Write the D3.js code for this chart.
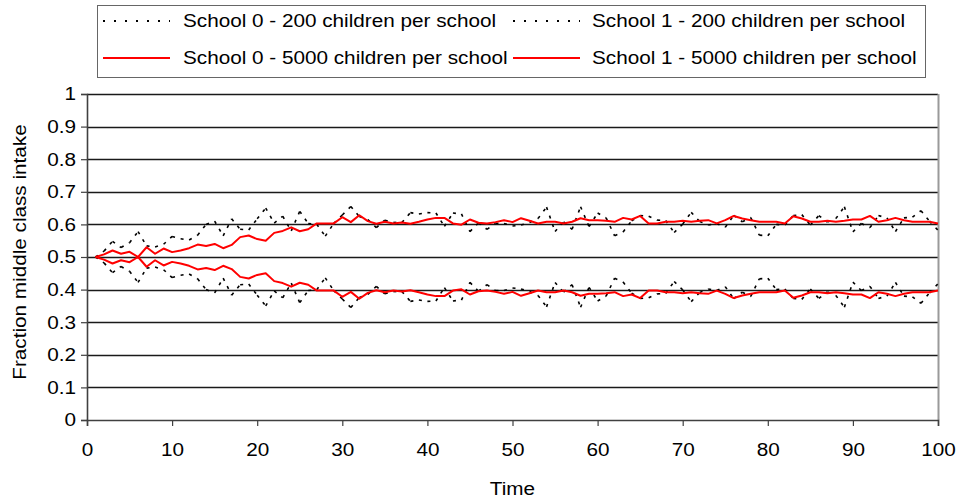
<!DOCTYPE html>
<html>
<head>
<meta charset="utf-8">
<script src="https://cdn.jsdelivr.net/npm/d3@7"></script>
<style>
  html, body { margin: 0; padding: 0; background: #fff; }
  svg { display: block; font-family: "Liberation Sans", Arial, sans-serif; }
</style>
</head>
<body>
<svg id="chart" width="956" height="499"></svg>
<script>
// Time steps 1..100
const time = d3.range(1, 101);

// Fraction of middle-class intake, 200 children per school
const school0Small = [
  0.500, 0.518, 0.548, 0.529, 0.544, 0.578, 0.534, 0.531, 0.539, 0.563,
  0.556, 0.552, 0.567, 0.600, 0.610, 0.565, 0.617, 0.585, 0.583, 0.617,
  0.650, 0.604, 0.625, 0.580, 0.640, 0.603, 0.600, 0.564, 0.603, 0.629,
  0.655, 0.624, 0.615, 0.590, 0.613, 0.606, 0.606, 0.636, 0.632, 0.636,
  0.635, 0.594, 0.635, 0.632, 0.578, 0.605, 0.585, 0.603, 0.603, 0.595,
  0.598, 0.606, 0.618, 0.653, 0.578, 0.608, 0.585, 0.654, 0.593, 0.635,
  0.620, 0.565, 0.577, 0.611, 0.627, 0.625, 0.613, 0.612, 0.575, 0.601,
  0.637, 0.609, 0.598, 0.603, 0.591, 0.628, 0.608, 0.621, 0.567, 0.565,
  0.600, 0.598, 0.627, 0.630, 0.598, 0.627, 0.607, 0.618, 0.654, 0.577,
  0.603, 0.590, 0.627, 0.620, 0.578, 0.620, 0.622, 0.642, 0.610, 0.582
];
const school1Small = [
  0.500, 0.482, 0.452, 0.471, 0.456, 0.422, 0.466, 0.469, 0.461, 0.437,
  0.444, 0.448, 0.433, 0.400, 0.390, 0.435, 0.383, 0.415, 0.417, 0.383,
  0.350, 0.396, 0.375, 0.420, 0.360, 0.397, 0.400, 0.436, 0.397, 0.371,
  0.345, 0.376, 0.385, 0.410, 0.387, 0.394, 0.394, 0.364, 0.368, 0.364,
  0.365, 0.406, 0.365, 0.368, 0.422, 0.395, 0.415, 0.397, 0.397, 0.405,
  0.402, 0.394, 0.382, 0.347, 0.422, 0.392, 0.415, 0.346, 0.407, 0.365,
  0.380, 0.435, 0.423, 0.389, 0.373, 0.375, 0.387, 0.388, 0.425, 0.399,
  0.363, 0.391, 0.402, 0.397, 0.409, 0.372, 0.392, 0.379, 0.433, 0.435,
  0.400, 0.402, 0.373, 0.370, 0.402, 0.373, 0.393, 0.382, 0.346, 0.423,
  0.397, 0.410, 0.373, 0.380, 0.422, 0.380, 0.378, 0.358, 0.390, 0.418
];

// Fraction of middle-class intake, 5000 children per school
const school0Large = [
  0.500, 0.508, 0.520, 0.510, 0.516, 0.500, 0.530, 0.510, 0.526, 0.515,
  0.520, 0.527, 0.538, 0.534, 0.540, 0.527, 0.537, 0.561, 0.566, 0.555,
  0.550, 0.574, 0.580, 0.591, 0.579, 0.585, 0.603, 0.603, 0.603, 0.622,
  0.607, 0.628, 0.610, 0.602, 0.608, 0.603, 0.606, 0.602, 0.608, 0.615,
  0.620, 0.620, 0.603, 0.599, 0.615, 0.605, 0.603, 0.607, 0.613, 0.607,
  0.619, 0.611, 0.603, 0.608, 0.608, 0.603, 0.608, 0.619, 0.613, 0.613,
  0.611, 0.608, 0.620, 0.615, 0.626, 0.603, 0.603, 0.608, 0.608, 0.611,
  0.608, 0.611, 0.613, 0.603, 0.613, 0.626, 0.618, 0.613, 0.608, 0.608,
  0.608, 0.603, 0.625, 0.618, 0.608, 0.608, 0.611, 0.608, 0.611, 0.615,
  0.615, 0.626, 0.608, 0.613, 0.620, 0.613, 0.608, 0.608, 0.608, 0.603
];
const school1Large = [
  0.500, 0.492, 0.480, 0.490, 0.484, 0.500, 0.470, 0.490, 0.474, 0.485,
  0.480, 0.473, 0.462, 0.466, 0.460, 0.473, 0.463, 0.439, 0.434, 0.445,
  0.450, 0.426, 0.420, 0.409, 0.421, 0.415, 0.397, 0.397, 0.397, 0.378,
  0.393, 0.372, 0.390, 0.398, 0.392, 0.397, 0.394, 0.398, 0.392, 0.385,
  0.380, 0.380, 0.397, 0.401, 0.385, 0.395, 0.397, 0.393, 0.387, 0.393,
  0.381, 0.389, 0.397, 0.392, 0.392, 0.397, 0.392, 0.381, 0.387, 0.387,
  0.389, 0.392, 0.380, 0.385, 0.374, 0.397, 0.397, 0.392, 0.392, 0.389,
  0.392, 0.389, 0.387, 0.397, 0.387, 0.374, 0.382, 0.387, 0.392, 0.392,
  0.392, 0.397, 0.375, 0.382, 0.392, 0.392, 0.389, 0.392, 0.389, 0.385,
  0.385, 0.374, 0.392, 0.387, 0.380, 0.387, 0.392, 0.392, 0.392, 0.397
];

const xTicks = [0, 10, 20, 30, 40, 50, 60, 70, 80, 90, 100];
const yTicks = [0, 0.1, 0.2, 0.3, 0.4, 0.5, 0.6, 0.7, 0.8, 0.9, 1];

const seriesNames = [
  "School 0 - 200 children per school",
  "School 1 - 200 children per school",
  "School 0 - 5000 children per school",
  "School 1 - 5000 children per school"
];

const series = [
  { name: seriesNames[0], values: school0Small, kind: "dot" },
  { name: seriesNames[1], values: school1Small, kind: "dot" },
  { name: seriesNames[2], values: school0Large, kind: "solid" },
  { name: seriesNames[3], values: school1Large, kind: "solid" }
];

const svg = d3.select("#chart");
const plot = { left: 87, right: 938, top: 94, bottom: 420 };
const FONT = 18.5;
const STRETCH = 1.12; // glyphs are drawn slightly wide

// widen a text element horizontally about its own anchor point
function widen(sel) {
  sel.each(function () {
    const x0 = +(this.getAttribute("x") || 0);
    const prev = this.getAttribute("transform") || "";
    this.setAttribute("transform",
      `${prev} translate(${x0 * (1 - STRETCH)},0) scale(${STRETCH},1)`);
  });
}

const x = d3.scaleLinear().domain([0, 100]).range([plot.left, plot.right]);
const y = d3.scaleLinear().domain([0, 1]).range([plot.bottom, plot.top]);

// Horizontal gridlines
svg.append("g")
  .selectAll("line")
  .data(yTicks.filter(v => v > 0))
  .join("line")
  .attr("x1", plot.left).attr("x2", plot.right)
  .attr("y1", d => Math.round(y(d)) + 0.5).attr("y2", d => Math.round(y(d)) + 0.5)
  .attr("stroke", "#1a1a1a").attr("stroke-width", 1.3);

// Plot frame right edge
svg.append("line")
  .attr("x1", plot.right + 0.5).attr("x2", plot.right + 0.5)
  .attr("y1", plot.top).attr("y2", plot.bottom)
  .attr("stroke", "#9a9a9a").attr("stroke-width", 2);

// Axes
const yAxis = d3.axisLeft(y).tickValues(yTicks).tickSize(6).tickPadding(5)
  .tickFormat(d => d === 0 || d === 1 ? d3.format("d")(d) : d3.format(".1f")(d));
const xAxis = d3.axisBottom(x).tickValues(xTicks).tickSize(6).tickPadding(17)
  .tickFormat(d3.format("d"));

const gy = svg.append("g").attr("transform", `translate(${plot.left},0)`).call(yAxis);
const gx = svg.append("g").attr("transform", `translate(0,${plot.bottom})`).call(xAxis);

[gx, gy].forEach(g => {
  g.select(".domain").attr("stroke", "#404040").attr("stroke-width", 1.6);
  g.selectAll(".tick line").attr("stroke", "#404040").attr("stroke-width", 1.2);
  g.selectAll(".tick text")
    .attr("font-family", "'Liberation Sans', Arial, sans-serif")
    .attr("font-size", FONT).attr("fill", "#000")
    .call(widen);
});

// Axis titles
svg.append("text")
  .attr("x", (plot.left + plot.right) / 2).attr("y", 495)
  .attr("text-anchor", "middle").attr("font-size", FONT).text("Time")
  .call(widen);

svg.append("text")
  .attr("transform", `translate(26,${(plot.top + plot.bottom) / 2 - 5}) rotate(-90)`)
  .attr("text-anchor", "middle").attr("font-size", FONT)
  .text("Fraction middle class intake")
  .call(widen);

// Data lines
const line = d3.line().x(d => x(d[0])).y(d => y(d[1]));

series.forEach(s => {
  const pts = time.map((t, i) => [t, s.values[i]]);
  if (s.kind === "dot") {
    // dotted series: each segment restarts its dash pattern
    const segs = d3.pairs(pts);
    svg.append("g")
      .selectAll("path")
      .data(segs)
      .join("path")
      .attr("d", d => line(d))
      .attr("fill", "none")
      .attr("stroke", "#000")
      .attr("stroke-width", 1.6)
      .attr("stroke-dasharray", "3,6");
  } else {
    svg.append("path")
      .attr("d", line(pts))
      .attr("fill", "none")
      .attr("stroke", "#ff0000")
      .attr("stroke-width", 2)
      .attr("stroke-linejoin", "round");
  }
});

// Legend
const legend = svg.append("g");
legend.append("rect")
  .attr("x", 97.5).attr("y", 5.5).attr("width", 828).attr("height", 72)
  .attr("fill", "#fff").attr("stroke", "#666").attr("stroke-width", 1);

const legendPos = [
  { sx: 103, tx: 183, cy: 21 },
  { sx: 513, tx: 592, cy: 21 },
  { sx: 103, tx: 183, cy: 58 },
  { sx: 513, tx: 592, cy: 58 }
];

series.forEach((s, i) => {
  const p = legendPos[i];
  legend.append("line")
    .attr("x1", p.sx).attr("x2", p.sx + 67)
    .attr("y1", p.cy).attr("y2", p.cy)
    .attr("stroke", s.kind === "dot" ? "#000" : "#ff0000")
    .attr("stroke-width", 2)
    .attr("stroke-dasharray", s.kind === "dot" ? "2,9" : null);
  legend.append("text")
    .attr("x", p.tx).attr("y", p.cy).attr("dy", "0.35em")
    .attr("font-size", FONT).text(s.name)
    .call(widen);
});
</script>
</body>
</html>
